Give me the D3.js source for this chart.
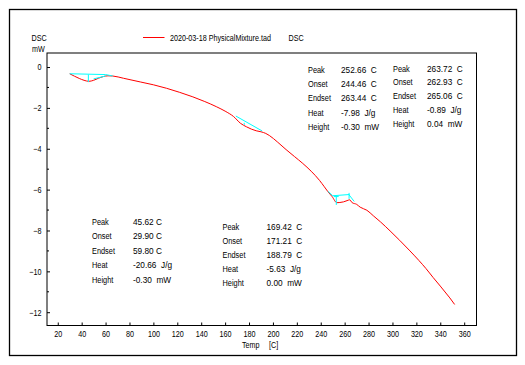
<!DOCTYPE html>
<html>
<head>
<meta charset="utf-8">
<script src="https://cdn.jsdelivr.net/npm/d3@7"></script>
<style>
body{margin:0;background:#fff;}
text{font-family:"Liberation Sans",Arial,sans-serif;fill:#000;}
</style>
</head>
<body>
<div id="chart"></div>
<script>
// DSC curve (Temp C, mW)
var temps = [30,34,38,42,46,50,54,58,62,66,75,89,100,111,122,133,143,153,160,167,
             173,178,182,186,190,194,197,204,211,218,225,232,239,243,246,249.5,253.5,256,259,262,264.2,266.3,270,273,278.6,
             284,290,298,306,314,322,328,334,340,344,348,352];
var dsc   = [-0.33,-0.45,-0.56,-0.65,-0.70,-0.65,-0.55,-0.47,-0.43,-0.44,-0.55,-0.73,-0.87,-1.04,-1.24,-1.46,-1.69,-1.95,-2.16,-2.42,
             -2.76,-2.93,-3.04,-3.12,-3.17,-3.25,-3.35,-3.68,-4.04,-4.38,-4.72,-5.10,-5.55,-5.86,-6.10,-6.34,-6.64,-6.63,-6.60,-6.54,-6.50,-6.64,-6.72,-6.86,-7.01,
             -7.28,-7.58,-8.02,-8.48,-8.96,-9.46,-9.86,-10.30,-10.72,-11.01,-11.30,-11.62];

// cyan evaluation marks: [t1, v1, t2, v2]
var evalLines = [
  [30,-0.33,60,-0.37],[60,-0.37,66,-0.44],[50,-0.58,60,-0.44],[45.6,-0.37,45.6,-0.74],
  [169,-2.40,191,-3.13],[176,-2.83,176,-2.73],
  [246,-6.08,250,-6.30],[250,-6.30,264,-6.24],[253,-6.30,253,-6.75],[251,-6.34,255,-6.34],
  [263.7,-6.16,263.7,-6.45],[263.5,-6.24,268,-6.58]
];

var xTicks = d3.range(20, 361, 20);
var yTicks = [0,-2,-4,-6,-8,-10,-12];
var yMinor = [-1,-3,-5,-7,-9,-11];

var tableLabels = ["Peak","Onset","Endset","Heat","Height"];
var tableA = ["252.66  C","244.46  C","263.44  C","-7.98  J/g","-0.30  mW"];
var tableB = ["263.72  C","262.93  C","265.06  C","-0.89  J/g","0.04  mW"];
var tableC = ["45.62 C","29.90 C","59.80 C","-20.66  J/g","-0.30  mW"];
var tableD = ["169.42  C","171.21  C","188.79  C","-5.63  J/g","0.00  mW"];

var W = 525, H = 365;
var plot = {left: 47, top: 53, right: 476.5, bottom: 325.5};
var sx = 0.8; // the instrument font is narrow

var svg = d3.select("#chart").append("svg")
    .attr("width", W)
    .attr("height", H);

// outer frame
svg.append("rect")
    .attr("x", 9.5).attr("y", 9.5)
    .attr("width", 507).attr("height", 346)
    .attr("fill", "none").attr("stroke", "#000").attr("stroke-width", 1.3);

var x = d3.scaleLinear().domain([11, 370.3]).range([plot.left, plot.right]);
var y = d3.scaleLinear().domain([0.686, -12.65]).range([plot.top, plot.bottom]);

// plot frame
svg.append("rect")
    .attr("x", plot.left).attr("y", plot.top)
    .attr("width", plot.right - plot.left).attr("height", plot.bottom - plot.top)
    .attr("fill", "none").attr("stroke", "#000").attr("stroke-width", 1);

// x axis, ticks pointing inward
var xAxis = svg.append("g").attr("transform", "translate(0," + plot.bottom + ")")
    .call(d3.axisBottom(x).tickValues(xTicks).tickSizeInner(-3).tickSizeOuter(0).tickPadding(8));
xAxis.select(".domain").remove();
xAxis.selectAll("text").attr("font-size", "9px").attr("font-family", null)
    .attr("dy", "0.4em").attr("transform", "scale(" + sx + ",1)");

var yAxis = svg.append("g").attr("transform", "translate(" + plot.left + ",0)")
    .call(d3.axisLeft(y).tickValues(yTicks).tickSizeInner(-3).tickSizeOuter(0).tickPadding(7));
yAxis.select(".domain").remove();
yAxis.selectAll("text").attr("font-size", "9px").attr("font-family", null)
    .attr("transform", "scale(" + sx + ",1)");

svg.append("g").selectAll("line").data(yMinor).enter().append("line")
    .attr("x1", plot.left).attr("x2", plot.left + 2)
    .attr("y1", d => y(d)).attr("y2", d => y(d))
    .attr("stroke", "#000");

function label(tx, ty, s, k){
    return svg.append("text")
        .attr("transform", "translate(" + tx + "," + ty + ") scale(" + (k || sx) + ",1)")
        .attr("font-size", "9px")
        .attr("xml:space", "preserve").style("white-space", "pre")
        .text(s);
}

// axis titles
label(31.5, 40.5, "DSC");
label(32, 52, "mW");
label(242, 347.5, "Temp");
label(269, 347.5, "[C]");

// legend
svg.append("line").attr("x1", 143).attr("x2", 164.5).attr("y1", 37.5).attr("y2", 37.5)
    .attr("stroke", "#ff0000").attr("stroke-width", 1);
label(170, 40.5, "2020-03-18 PhysicalMixture.tad");
label(288.5, 40.5, "DSC");

// curve
var line = d3.line().x(d => x(d[0])).y(d => y(d[1])).curve(d3.curveMonotoneX);
svg.append("path")
    .datum(d3.zip(temps, dsc))
    .attr("d", line)
    .attr("fill", "none")
    .attr("stroke", "#ff0000")
    .attr("stroke-width", 1);

svg.append("g").selectAll("line").data(evalLines).enter().append("line")
    .attr("x1", d => x(d[0])).attr("y1", d => y(d[1]))
    .attr("x2", d => x(d[2])).attr("y2", d => y(d[3]))
    .attr("stroke", "#00ffff").attr("stroke-width", 1);

// result tables
function table(lx, vx, y0, step, vals){
    tableLabels.forEach((d, i) => label(lx, y0 + i * step, d, 0.82));
    vals.forEach((d, i) => label(vx, y0 + i * step, d, 0.92));
}
table(308, 341, 73, 14.2, tableA);
table(393, 427, 71.5, 13.8, tableB);
table(92, 133, 225, 14.4, tableC);
table(222.5, 266.5, 230, 14, tableD);
</script>
</body>
</html>
